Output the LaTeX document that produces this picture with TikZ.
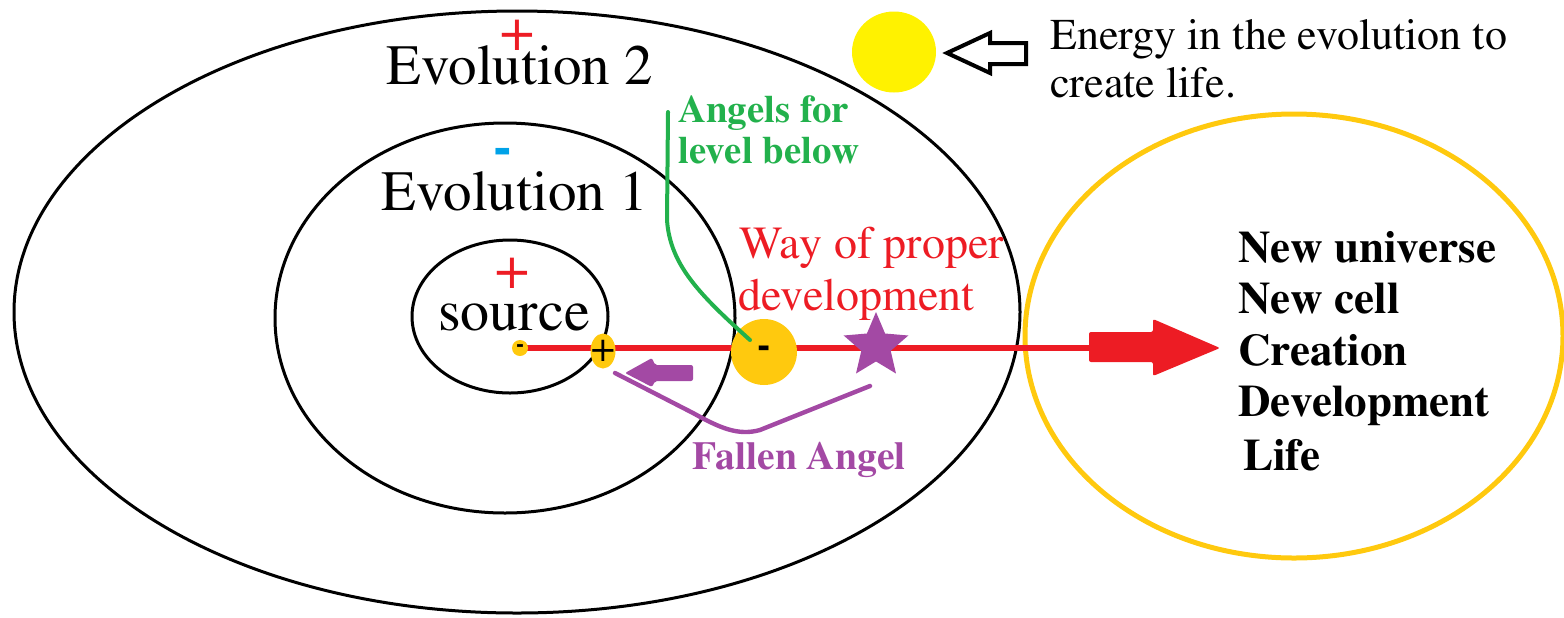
\documentclass[tikz,border=0pt]{standalone}
\usepackage[T1]{fontenc}
\usepackage{mathptmx}
\usetikzlibrary{shapes.geometric}
\definecolor{penred}{RGB}{237,28,36}
\definecolor{penpurple}{RGB}{163,73,164}
\definecolor{pengreen}{RGB}{34,177,76}
\definecolor{pengold}{RGB}{255,201,14}
\definecolor{sunyellow}{RGB}{255,242,0}
\definecolor{penblue}{RGB}{0,162,232}
\begin{document}
\begin{tikzpicture}[x=0.5pt,y=-0.5pt,
  ring/.style={draw=black,line width=1.5pt},
  lbl/.style={anchor=base west,inner sep=0pt},
  sign/.style={inner sep=0pt},
  bigtext/.style={font=\fontsize{28.5}{30}\selectfont},
  listtext/.style={lbl,font=\bfseries\fontsize{22.5}{24}\selectfont}]
  \useasboundingbox (0,0) rectangle (1564,617);
  \draw[ring] (517,312) ellipse [x radius=503,y radius=301]; % Evolution 2
  \draw[ring] (505,318) ellipse [x radius=230,y radius=195]; % Evolution 1
  \draw[ring] (510,316.5) ellipse [x radius=98,y radius=76.5]; % source
  \draw[pengold,line width=2.5pt] (1294,336) ellipse [x radius=269,y radius=222]; % new world
  % way of proper development
  \coordinate (start) at (520,348);
  \coordinate (tail) at (1089,348);
  \draw[penred,line width=3pt] (start) -- (tail);
  \fill[penred,rounded corners=1pt,shift={(tail)}] (0,-16) -- (64,-16) -- (64,-29)
    -- (131,0) -- (64,28) -- (64,14) -- (0,14) -- cycle;
  \node[circle,fill=pengold,minimum size=8pt,sign,font=\bfseries\fontsize{12}{12}\selectfont] (minus) at (start) {-};
  \fill[pengold] (603,351) ellipse [x radius=12.5,y radius=17.5]; % plus dot
  \node[sign,font=\fontsize{21}{21}\selectfont] (plus) at (603,351) {+};
  \node[circle,fill=pengold,minimum size=33pt,sign,font=\bfseries\fontsize{20}{20}\selectfont] (angel) at (764,352) {-};
  \node[star,star points=5,star point ratio=2.2,fill=penpurple,minimum size=34pt,sign] (goal) at (876,346) {};
  % angels
  \coordinate (greentop) at (668,112);
  \coordinate (greenend) at (750,340);
  \draw[pengreen,line width=2pt,line cap=round] (greentop) -- (667,220)
    .. controls (670,265) and (700,295) .. (greenend);
  % fallen angel
  \coordinate (fallstart) at (615,373);
  \coordinate (fallend) at (870,386);
  \draw[penpurple,line width=2.2pt,line cap=round] (fallstart) -- (693,413)
    .. controls (720,428) and (738,436) .. (760,430) -- (fallend);
  \fill[penpurple,rounded corners=1pt] (625,373) -- (652,358) -- (655,365) -- (693,365)
    -- (693,381) -- (655,381) -- (652,387) -- cycle;
  % energy
  \node[ellipse,fill=sunyellow,minimum width=42pt,minimum height=40.5pt,sign] (sun) at (894,52) {};
  \draw[line width=2pt,line join=miter] (947,53) -- (990,33) -- (990,43) -- (1026,43)
    -- (1026,64) -- (990,64) -- (990,73) -- cycle;
  \node[lbl,font=\fontsize{22}{24}\selectfont] (energy) at (1050,49) {Energy in the evolution to};
  \node[lbl,font=\fontsize{22}{24}\selectfont] (energytwo) at (1050,97) {create life.};
  % labels
  \node[lbl,bigtext] (evotwo) at (386,84) {Evolution 2};
  \node[sign,text=penred,font=\fontsize{30}{30}\selectfont] (plustwo) at (517,35) {+};
  \node[lbl,bigtext] (evoone) at (381,210) {Evolution 1};
  \node[sign,text=penblue,font=\bfseries\fontsize{28}{28}\selectfont] (minusone) at (503,157) {-};
  \node[lbl,font=\fontsize{29}{30}\selectfont] (source) at (438,330) {source};
  \node[sign,text=penred,font=\fontsize{30}{30}\selectfont] (plussource) at (512,273) {+};
  \node[lbl,text=pengreen,font=\bfseries\fontsize{19.4}{20}\selectfont] (angels) at (678,122) {Angels for};
  \node[lbl,text=pengreen,font=\bfseries\fontsize{19.4}{20}\selectfont] (angelstwo) at (678,163) {level below};
  \node[lbl,text=penred,font=\fontsize{23}{24}\selectfont] (way) at (739,258) {Way of proper};
  \node[lbl,text=penred,font=\fontsize{23}{24}\selectfont] (waytwo) at (738,310) {development};
  \node[lbl,text=penpurple,font=\bfseries\fontsize{19.8}{20}\selectfont] (fallen) at (692,469) {Fallen Angel};
  \node[listtext] (universe) at (1238,262) {New universe};
  \node[listtext] (cell) at (1238,313) {New cell};
  \node[listtext] (creation) at (1238,365) {Creation};
  \node[listtext] (development) at (1238,416) {Development};
  \node[listtext] (life) at (1243,470) {Life};
\end{tikzpicture}
\end{document}
